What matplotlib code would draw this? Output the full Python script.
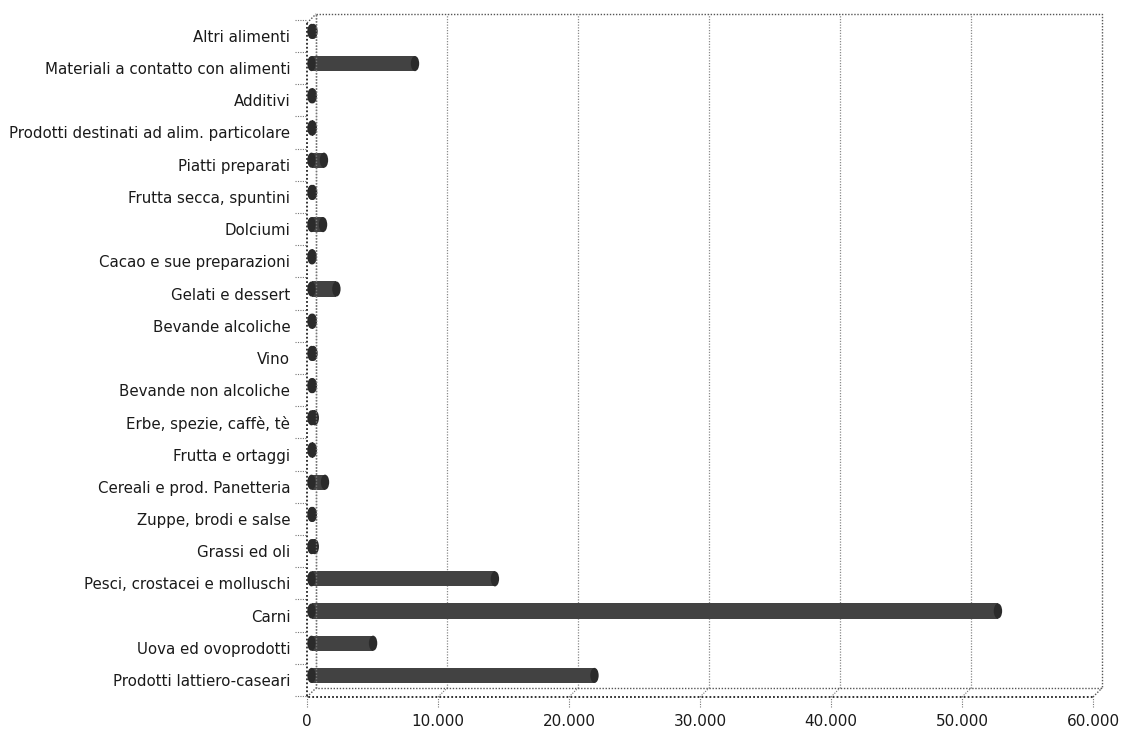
import matplotlib.pyplot as plt
import matplotlib.transforms as mtransforms
from matplotlib.patches import Ellipse
from matplotlib.ticker import FuncFormatter

# categories from bottom to top
categories = [
    'Prodotti lattiero-caseari',
    'Uova ed ovoprodotti',
    'Carni',
    'Pesci, crostacei e molluschi',
    'Grassi ed oli',
    'Zuppe, brodi e salse',
    'Cereali e prod. Panetteria',
    'Frutta e ortaggi',
    'Erbe, spezie, caffè, tè',
    'Bevande non alcoliche',
    'Vino',
    'Bevande alcoliche',
    'Gelati e dessert',
    'Cacao e sue preparazioni',
    'Dolciumi',
    'Frutta secca, spuntini',
    'Piatti preparati',
    'Prodotti destinati ad alim. particolare',
    'Additivi',
    'Materiali a contatto con alimenti',
    'Altri alimenti',
]
values = [21600, 4700, 52400, 14000, 250, 100, 1030, 100, 250, 100, 150,
          100, 1900, 80, 880, 120, 950, 100, 100, 7900, 150]
x_ticks = [0, 10000, 20000, 30000, 40000, 50000, 60000]

plt.rcParams['font.family'] = ['DejaVu Sans']

fig = plt.figure(figsize=(11.23, 7.35), dpi=100)
ax = fig.add_axes([307 / 1123, 38 / 735, 786 / 1123, 674 / 735])
ax.set_xlim(0, 60000)
ax.set_ylim(-0.53, 20.4)
for s in ax.spines.values():
    s.set_visible(False)

# depth offset of the back wall and of the bars (3d look)
back = mtransforms.ScaledTranslation(9 / 100, 9 / 100, fig.dpi_scale_trans)
mid = mtransforms.ScaledTranslation(4.5 / 100, 4.5 / 100, fig.dpi_scale_trans)
back_data = ax.transData + back
back_axes = ax.transAxes + back
mid_data = ax.transData + mid

dot = dict(linestyle=(0, (1, 1.2)), clip_on=False)

# gridlines on the back wall
for t in x_ticks[1:-1]:
    ax.plot([t, t], [-0.53, 20.4], color='#8a8a8a', lw=0.9,
            transform=back_data, zorder=1, **dot)

# box outline: back wall, floor and left wall
ax.plot([0, 1, 1, 0, 0], [1, 1, 0, 0, 1], color='#555555', lw=1.0,
        transform=back_axes, zorder=1, **dot)
ax.plot([0, 0, 1], [1, 0, 0], color='#222222', lw=1.3,
        transform=ax.transAxes, zorder=5, **dot)
for xa, ya in [(0, 1), (0, 0), (1, 0)]:
    ax.plot([xa, xa + 9 / 786], [ya, ya + 9 / 674], color='#555555', lw=1.0,
            transform=ax.transAxes, zorder=1, **dot)
# floor diagonals under each gridline
for t in x_ticks[1:-1]:
    xa = t / 60000
    ax.plot([xa, xa + 9 / 786], [0, 9 / 674], color='#777777', lw=0.8,
            transform=ax.transAxes, zorder=1, **dot)

# cylinder bars
cap_w = 640
bar_h = 0.47
ypos = list(range(len(categories)))
ax.barh(ypos, values, height=bar_h, color='#424242', edgecolor='none',
        transform=mid_data, zorder=3)
for y, v in zip(ypos, values):
    for xc in (0, v):
        ax.add_patch(Ellipse((xc, y), cap_w, bar_h, facecolor='#2b2b2b',
                             edgecolor='none', transform=mid_data, zorder=3))

# back-left wall line shows through the bars
ax.plot([0, 0], [0, 1], color='#777777', lw=1.0, transform=back_axes,
        zorder=4, **dot)

# category tick marks at the boundaries
yx = mtransforms.blended_transform_factory(ax.transAxes, ax.transData)
for b in range(len(categories) + 1):
    ax.plot([-12 / 786, 0], [b - 0.5, b - 0.5], color='#777777', lw=0.8,
            transform=yx, **dot)
# value tick marks under the axis
xy = mtransforms.blended_transform_factory(ax.transData, ax.transAxes)
for t in x_ticks:
    ax.plot([t, t], [-10 / 674, 0], color='#777777', lw=0.8,
            transform=xy, **dot)

ax.set_yticks(ypos)
ax.set_yticklabels(categories, fontsize=10.8, color='#1a1a1a')
ax.set_xticks(x_ticks)
ax.xaxis.set_major_formatter(FuncFormatter(lambda v, p: f'{int(v):,}'.replace(',', '.')))
ax.tick_params(axis='y', length=0, pad=12)
ax.tick_params(axis='x', length=0, pad=12, labelsize=11, labelcolor='#1a1a1a')

fig.savefig('out.png', dpi=100)
